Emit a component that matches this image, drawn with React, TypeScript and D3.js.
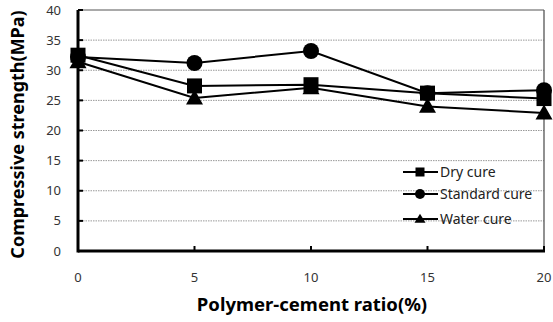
import React from "react";
import * as d3 from "d3";

// values
const ratios = [0, 5, 10, 15, 20];
const dryCure = [32.5, 27.4, 27.6, 26.2, 25.3];
const standardCure = [32.2, 31.2, 33.2, 26.2, 26.7];
const waterCure = [31.4, 25.4, 27.1, 24.0, 22.9];
const yTicks = [0, 5, 10, 15, 20, 25, 30, 35, 40];
const seriesNames = ["Dry cure", "Standard cure", "Water cure"];

const width = 553;
const height = 322;
const margin = { top: 10, right: 9, bottom: 71, left: 78 };

const x = d3
  .scaleLinear()
  .domain([0, 20])
  .range([margin.left, width - margin.right]);
const y = d3
  .scaleLinear()
  .domain([0, 40])
  .range([height - margin.bottom, margin.top]);

const series = [
  { name: seriesNames[0], values: dryCure, shape: "square" },
  { name: seriesNames[1], values: standardCure, shape: "circle" },
  { name: seriesNames[2], values: waterCure, shape: "triangle" },
];

const Marker = ({ shape, cx, cy, s }: { shape: string; cx: number; cy: number; s: number }) => {
  if (shape === "square")
    return <rect x={cx - s / 2} y={cy - s / 2} width={s} height={s} fill="#000" />;
  if (shape === "circle") return <circle cx={cx} cy={cy} r={s / 2 + 0.5} fill="#000" />;
  const h = s * 0.95;
  return (
    <path
      d={`M${cx},${cy - h * 0.6} L${cx + s / 2 + 1},${cy + h * 0.45} L${cx - s / 2 - 1},${cy + h * 0.45} Z`}
      fill="#000"
    />
  );
};

const line = d3
  .line<number>()
  .x((_, i) => x(ratios[i]))
  .y((d) => y(d));

export default function App() {
  const x0 = margin.left;
  const x1 = width - margin.right;
  const y0 = height - margin.bottom;
  const y1 = margin.top;
  const font = "'Noto Sans', 'DejaVu Sans', sans-serif";

  return (
    <svg
      width={width}
      height={height}
      style={{ position: "absolute", left: 0, top: 0, background: "#fff" }}
      fontFamily={font}
    >
      {/* dotted grid */}
      {yTicks
        .filter((t) => t > 0 && t < 40)
        .map((t) => (
          <line
            key={t}
            x1={x0}
            x2={x1}
            y1={y(t)}
            y2={y(t)}
            stroke="#999"
            strokeWidth={1}
            strokeDasharray="1.5,1"
          />
        ))}
      {/* frame */}
      <line x1={x0} x2={x1} y1={y1} y2={y1} stroke="#555" strokeWidth={1} />
      <line x1={x1} x2={x1} y1={y1} y2={y0} stroke="#555" strokeWidth={1.3} />
      <line x1={x0} x2={x0} y1={y1} y2={y0 + 1.5} stroke="#000" strokeWidth={3} />
      <line x1={x0} x2={x1 + 1} y1={y0} y2={y0} stroke="#000" strokeWidth={3} />
      {/* ticks */}
      {yTicks.map((t) => (
        <line key={t} x1={x0} x2={x0 + 5} y1={y(t)} y2={y(t)} stroke="#000" strokeWidth={2} />
      ))}
      {ratios.map((r) => (
        <line key={r} x1={x(r)} x2={x(r)} y1={y0} y2={y0 - 5} stroke="#000" strokeWidth={2} />
      ))}
      {/* tick labels */}
      {yTicks.map((t) => (
        <text
          key={t}
          x={61}
          y={y(t)}
          dy="0.35em"
          textAnchor="end"
          fontSize={13}
          fill="#333"
        >
          {t}
        </text>
      ))}
      {ratios.map((r) => (
        <text key={r} x={x(r)} y={277} dy="0.35em" textAnchor="middle" fontSize={13} fill="#333">
          {r}
        </text>
      ))}
      {/* series */}
      {series.map((s) => (
        <g key={s.name}>
          <path d={line(s.values) ?? ""} fill="none" stroke="#000" strokeWidth={2} />
          {s.values.map((v, i) => (
            <Marker key={i} shape={s.shape} cx={x(ratios[i])} cy={y(v)} s={15} />
          ))}
        </g>
      ))}
      {/* legend */}
      {series.map((s, i) => {
        const ly = [172, 194, 219][i];
        return (
          <g key={s.name}>
            <line x1={403} x2={438} y1={ly} y2={ly} stroke="#000" strokeWidth={2} />
            <Marker shape={s.shape} cx={420} cy={ly} s={9} />
            <text x={440} y={ly} dy="0.35em" fontSize={14} fill="#222">
              {s.name}
            </text>
          </g>
        );
      })}
      {/* axis titles */}
      <text
        transform={`translate(18,${(y0 + y1) / 2 + 4}) rotate(-90)`}
        textAnchor="middle"
        dy="0.35em"
        fontSize={18}
        fontWeight="bold"
        fill="#000"
      >
        Compressive strength(MPa)
      </text>
      <text x={312} y={305} dy="0.35em" textAnchor="middle" fontSize={18.5} fontWeight="bold" fill="#000">
        Polymer-cement ratio(%)
      </text>
    </svg>
  );
}
